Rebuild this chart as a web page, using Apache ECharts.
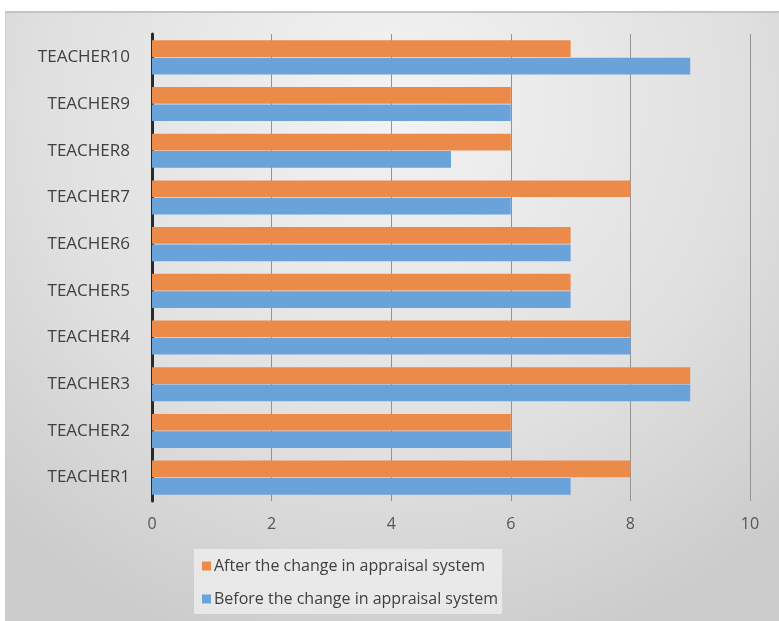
<!DOCTYPE html>
<html>
<head>
<meta charset="utf-8">
<script src="https://cdn.jsdelivr.net/npm/echarts@6/dist/echarts.min.js"></script>
<style>
  html, body { margin: 0; padding: 0; background: #fff; }
  #chart {
    position: absolute; left: 5px; top: 11px; width: 774px; height: 610px;
    border-top: 2px solid #c4c4c4; border-left: 1px solid #d0d0d0; box-sizing: border-box;
  }
</style>
</head>
<body>
<div id="chart"></div>
<script>
var teachers = ['TEACHER1', 'TEACHER2', 'TEACHER3', 'TEACHER4', 'TEACHER5',
                'TEACHER6', 'TEACHER7', 'TEACHER8', 'TEACHER9', 'TEACHER10'];
var beforeChange = [7, 6, 9, 8, 7, 7, 6, 5, 6, 9];
var afterChange  = [8, 6, 9, 8, 7, 7, 8, 6, 6, 7];
var xTicks = [0, 2, 4, 6, 8, 10];

var font = '"Open Sans", "Liberation Sans", sans-serif';

var option = {
  backgroundColor: {
    type: 'radial', x: 0.5, y: 0.15, r: 0.95,
    colorStops: [
      { offset: 0, color: '#f3f3f3' },
      { offset: 0.6, color: '#e0e0e0' },
      { offset: 1, color: '#cbcbcb' }
    ]
  },
  animation: false,
  grid: { left: 146, right: 29, top: 21, bottom: 120 },
  legend: {
    data: ['After the change in appraisal system', 'Before the change in appraisal system'],
    orient: 'vertical',
    left: 188, top: 536,
    itemWidth: 9, itemHeight: 9, itemGap: 17,
    icon: 'rect',
    padding: [9, 4, 7, 8],
    backgroundColor: 'rgba(236,236,236,0.85)',
    textStyle: { fontFamily: font, fontSize: 16, color: '#404040', padding: [0, 0, 0, -2] }
  },
  xAxis: {
    type: 'value',
    min: xTicks[0], max: xTicks[xTicks.length - 1], interval: 2,
    axisLine: { show: false },
    axisTick: { show: false },
    axisLabel: { fontFamily: font, fontSize: 16, color: '#555', margin: 15 },
    splitLine: { show: true, lineStyle: { color: '#939393', width: 1 } }
  },
  yAxis: {
    type: 'category',
    data: teachers,
    axisLine: { show: true, lineStyle: { color: '#2a2a2a', width: 3 } },
    axisTick: { show: false },
    axisLabel: { fontFamily: font, fontSize: 17, color: '#404040', margin: 22 }
  },
  series: [
    {
      name: 'After the change in appraisal system',
      type: 'bar',
      data: afterChange,
      barGap: '4%',
      barCategoryGap: '27%',
      itemStyle: { color: '#ec8a4a' }
    },
    {
      name: 'Before the change in appraisal system',
      type: 'bar',
      data: beforeChange,
      itemStyle: { color: '#6aa2da' }
    }
  ]
};

var myChart = echarts.init(document.getElementById('chart'));
myChart.setOption(option, true);
</script>
</body>
</html>
